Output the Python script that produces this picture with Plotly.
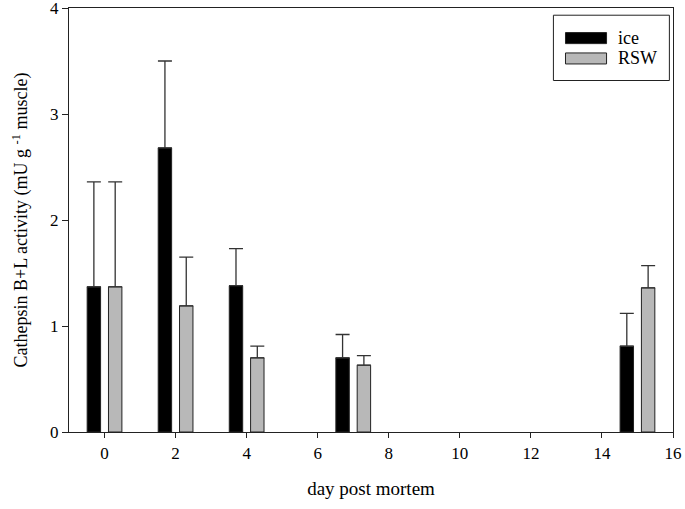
import plotly.graph_objects as go

# days post mortem
days = [0, 2, 4, 7, 15]

# cathepsin B+L activity (mU/g muscle)
ice_mean = [1.37, 2.68, 1.38, 0.70, 0.81]
ice_err = [0.99, 0.82, 0.35, 0.22, 0.31]
rsw_mean = [1.37, 1.19, 0.70, 0.63, 1.36]
rsw_err = [0.99, 0.46, 0.11, 0.09, 0.21]

x_ticks = [0, 2, 4, 6, 8, 10, 12, 14, 16]
y_ticks = [0, 1, 2, 3, 4]

serif = "Liberation Serif, Times New Roman, serif"
err_style = dict(type="data", symmetric=False, arrayminus=[0] * len(days),
                 color="#333333", thickness=1.3, width=7)

fig = go.Figure()
fig.add_trace(go.Bar(
    x=days, y=ice_mean, name="ice",
    marker=dict(color="black", line=dict(color="#222222", width=1)),
    error_y=dict(array=ice_err, **err_style),
))
fig.add_trace(go.Bar(
    x=days, y=rsw_mean, name="RSW",
    marker=dict(color="#b8b8b8", line=dict(color="#222222", width=1)),
    error_y=dict(array=rsw_err, **err_style),
))

# hand-drawn legend box to match the original swatch shape
shapes = [
    dict(type="rect", xref="paper", yref="paper", x0=0.802, x1=0.994, y0=0.829, y1=0.983,
         line=dict(color="#222222", width=1), fillcolor="white"),
    dict(type="rect", xref="paper", yref="paper", x0=0.822, x1=0.890, y0=0.916, y1=0.942,
         line=dict(color="#222222", width=1), fillcolor="black"),
    dict(type="rect", xref="paper", yref="paper", x0=0.822, x1=0.890, y0=0.868, y1=0.894,
         line=dict(color="#222222", width=1), fillcolor="#b8b8b8"),
]
annotations = [
    dict(text="ice", xref="paper", yref="paper", x=0.905, y=0.929, xanchor="left",
         yanchor="middle", showarrow=False, font=dict(family=serif, size=18, color="black")),
    dict(text="RSW", xref="paper", yref="paper", x=0.905, y=0.881, xanchor="left",
         yanchor="middle", showarrow=False, font=dict(family=serif, size=18, color="black")),
]

fig.update_layout(
    width=685, height=509,
    margin=dict(l=69, r=12, t=8, b=77),
    paper_bgcolor="white", plot_bgcolor="white",
    barmode="group", bargap=0.4, bargroupgap=0.37,
    showlegend=False,
    font=dict(family=serif, size=17, color="black"),
    shapes=shapes, annotations=annotations,
    xaxis=dict(range=[-1, 16], tickvals=x_ticks, ticks="outside", ticklen=5,
               tickcolor="#222222", showline=True, linecolor="#222222", linewidth=1.2,
               mirror=True, showgrid=False, zeroline=False, automargin=False,
               ticklabeloverflow="allow",
               title=dict(text="day post mortem", font=dict(size=19), standoff=20)),
    yaxis=dict(range=[0, 4], tickvals=y_ticks, ticks="outside", ticklen=6,
               tickcolor="#222222", showline=True, linecolor="#222222", linewidth=1.2,
               mirror=True, showgrid=False, zeroline=False, automargin=False,
               ticklabeloverflow="allow",
               title=dict(text="Cathepsin B+L activity (mU g <sup>-1</sup> muscle)",
                          font=dict(size=18), standoff=17)),
)

# page body margin off so the figure sits at the window's corner
fig.write_html("out.html", config={"displayModeBar": False},
               post_script="document.body.style.margin='0';")
